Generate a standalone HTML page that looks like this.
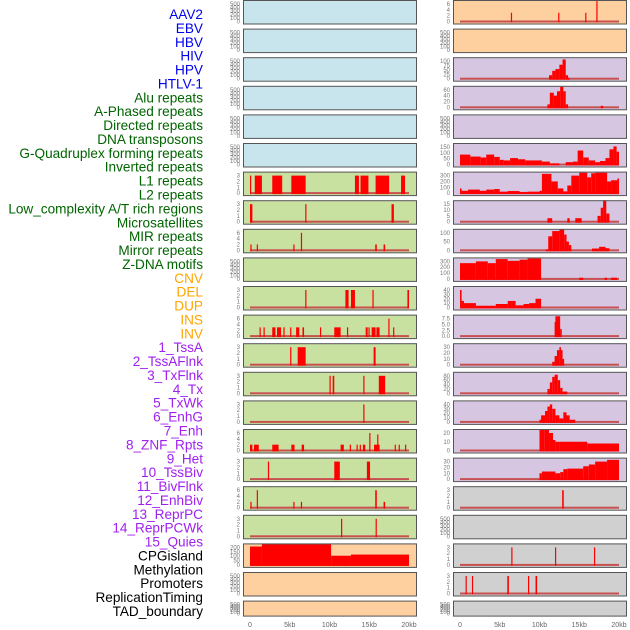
<!DOCTYPE html>
<html><head><meta charset="utf-8">
<style>
html,body{margin:0;padding:0;background:#fff;}
svg{display:block;font-family:"Liberation Sans",sans-serif;}
</style></head>
<body>
<svg id="chart" width="630" height="630" viewBox="0 0 630 630" xmlns="http://www.w3.org/2000/svg"></svg>
<script>
const labelColors=["#0000ee","#0000ee","#0000ee","#0000ee","#0000ee","#0000ee","#006400","#006400","#006400","#006400","#006400","#006400","#006400","#006400","#006400","#006400","#006400","#006400","#006400","#ffa500","#ffa500","#ffa500","#ffa500","#ffa500","#a020f0","#a020f0","#a020f0","#a020f0","#a020f0","#a020f0","#a020f0","#a020f0","#a020f0","#a020f0","#a020f0","#a020f0","#a020f0","#a020f0","#a020f0","#000","#000","#000","#000","#000"];
const shownLabels=["AAV2","EBV","HBV","HIV","HPV","HTLV-1","Alu repeats","A-Phased repeats","Directed repeats","DNA transposons","G-Quadruplex forming repeats","Inverted repeats","L1 repeats","L2 repeats","Low_complexity A/T rich regions","Microsatellites","MIR repeats","Mirror repeats","Z-DNA motifs","CNV","DEL","DUP","INS","INV","1_TssA","2_TssAFlnk","3_TxFlnk","4_Tx","5_TxWk","6_EnhG","7_Enh","8_ZNF_Rpts","9_Het","10_TssBiv","11_BivFlnk","12_EnhBiv","13_ReprPC","14_ReprPCWk","15_Quies","CPGisland","Methylation","Promoters","ReplicationTiming","TAD_boundary"];
const T500=[0,100,200,300,400,500], T3=[0,1,2,3], T6=[0,2,4,6];
const leftBg=["#c8e4ec","#c8e4ec","#c8e4ec","#c8e4ec","#c8e4ec","#c8e4ec","#c8e0a0","#c8e0a0","#c8e0a0","#c8e0a0","#c8e0a0","#c8e0a0","#c8e0a0","#c8e0a0","#c8e0a0","#c8e0a0","#c8e0a0","#c8e0a0","#c8e0a0","#fecf9f","#fecf9f","#fecf9f"];
const leftTicks=[T500,T500,T500,T500,T500,T500,T3,T3,T6,T500,T3,T6,T3,T3,T3,T6,T3,T6,T3,[0,50,100,150,200],T500,T500];
const leftData=[
[],[],[],[],[],[],
[[0,0.15,3],[0.6,1.5,3],[2.8,4.05,3],[5.2,7.0,3],[13.2,13.7,3],[13.9,14.9,3],[15.8,17.5,3],[19.0,19.5,3]],
[[0,0.3,3],[6.95,7.1,3],[17.8,18.1,3]],
[[0.05,0.2,2],[0.85,1.0,2],[5.45,5.6,2],[6.4,6.55,6],[15.75,15.95,2],[16.8,17.0,2]],
[],
[[6.95,7.1,3],[12.0,12.4,3],[12.7,13.2,3],[15.4,15.55,3],[19.8,20,3]],
[[1.2,1.35,3],[1.7,1.85,3],[2.8,3.2,3],[3.4,3.9,3],[4.2,4.3,3],[5.05,5.2,3],[5.8,6.2,3],[6.6,6.8,3],[8.8,8.95,3],[10.6,11.4,3],[12.2,12.35,3],[14.55,14.8,3],[14.9,15.0,3],[15.3,15.8,3],[15.9,16.3,3],[17.4,17.55,6],[18.0,18.15,3]],
[[5.05,5.2,3],[6.0,7.0,3],[15.55,15.8,3]],
[[10.0,10.15,3],[10.4,10.6,3],[14.25,14.4,3],[16.2,17.0,3]],
[[14.25,14.4,3]],
[[0,0.3,2],[0.5,1.1,2],[2.8,3.6,2],[5.2,5.6,2],[6.5,6.8,2],[11.4,11.8,2],[12.55,12.7,2],[13.4,13.55,2],[13.8,13.95,2],[14.2,14.5,2],[15.0,15.15,6],[15.6,16.3,2],[16.0,16.15,5.5],[18.2,18.35,2],[18.7,18.85,2],[19.5,19.65,2]],
[[2.25,2.4,3],[10.6,11.3,3],[14.7,15.1,3]],
[[0.05,0.2,2],[0.85,1.0,6],[5.45,5.6,2],[6.4,6.55,2],[15.75,15.95,6],[16.8,17.0,2]],
[[11.45,11.6,3],[15.8,15.95,3]],
[[0,1.5,210],[1.5,10.2,240],[10.2,12.7,105],[12.7,20,118]],
[],[]
];
const rightBg=["#fecf9f","#fecf9f","#d6c6e2","#d6c6e2","#d6c6e2","#d6c6e2","#d6c6e2","#d6c6e2","#d6c6e2","#d6c6e2","#d6c6e2","#d6c6e2","#d6c6e2","#d6c6e2","#d6c6e2","#d6c6e2","#d6c6e2","#d0d0d0","#d0d0d0","#d0d0d0","#d0d0d0","#d0d0d0"];
const rightTicks=[T6,T500,[0,25,50,75,100],[0,20,40,60],T500,[0,50,100,150],[0,100,200,300],[0,5,10,15],[0,50,100],[0,100,200,300],[0,10,20,30,40],[0,2.5,5,7.5],[0,10,20,30],[0,20,40,60,80],[0,10,20,30,40],[0,10,20],[0,10,20,30],T3,T500,T3,T3,T500];
const rightTickText=[null,null,null,null,null,null,null,null,null,null,null,["0.0","2.5","5.0","7.5"],null,null,null,null,null,null,null,null,null,null];
const rightData=[
[[6.4,6.55,3],[12.35,12.5,3],[15.75,15.9,3],[17.15,17.3,7]],
[],
[[11.2,11.6,20],[11.6,12.0,45],[12.0,12.5,55],[12.5,12.9,80],[12.9,13.3,110],[13.3,13.6,20],[13.6,13.8,5]],
[[11.0,11.3,10],[11.3,11.8,50],[11.8,12.2,40],[12.2,12.6,55],[12.6,13.0,70],[13.0,13.3,55],[13.3,13.6,10],[17.7,18.0,5]],
[],
[[0,1.3,85],[1.3,2.6,68],[2.6,3.3,60],[3.3,4.3,85],[4.3,5.0,65],[5.0,5.5,40],[5.5,6.3,35],[6.3,7.3,55],[7.3,8.2,45],[8.2,10.3,35],[10.3,11.3,25],[11.3,12.5,10],[13.3,14.2,20],[14.2,14.8,25],[14.8,15.5,120],[15.5,16.2,60],[16.2,17.0,35],[17.0,17.6,20],[17.6,18.3,30],[18.3,18.8,55],[18.8,19.3,130],[19.3,19.7,155],[19.7,20,110]],
[[0,0.2,80],[0.2,1,40],[1,2.5,60],[2.5,3.3,40],[3.3,4.3,60],[4.3,5,70],[5,6,25],[6,7.5,35],[7.5,8.5,20],[8.5,10,25],[10,10.3,40],[10.3,11.5,330],[11.5,12.3,200],[12.3,13,80],[13,13.5,30],[13.5,14,130],[14,15,300],[15,16,350],[16,16.5,270],[16.5,17,340],[17,18.5,350],[18.5,19,200],[19,19.8,220],[19.8,20,250]],
[[11.0,11.6,3],[13.5,13.8,3],[14.5,15.3,3],[17.3,17.7,5],[17.7,18.0,12],[18.0,18.4,20],[18.4,18.8,7]],
[[10.8,11.1,5],[11.1,11.6,80],[11.6,12.5,110],[12.5,13.1,120],[13.1,13.4,90],[13.4,13.7,50],[13.7,14.0,30],[16.6,17.5,10],[17.5,18.3,20],[18.3,18.8,12]],
[[0,2,270],[2,3.5,300],[3.5,4.5,270],[4.5,6,340],[6,7.5,310],[7.5,8.5,330],[8.5,10.2,350],[15,15.5,20],[18.2,18.5,20],[19,19.8,20]],
[[0,0.2,40],[0.2,0.5,15],[0.5,2,10],[2,4.5,4],[4.5,6,8],[6,7,15],[7,8,5],[8,8.7,8],[8.7,9.5,10],[9.5,10.2,20]],
[[11.9,12.0,6],[12.0,12.6,8.5],[12.6,12.8,3]],
[[11.6,11.9,5],[11.9,12.2,15],[12.2,12.5,25],[12.5,12.7,30],[12.7,12.9,25],[12.9,13.1,10]],
[[11.0,11.3,20],[11.3,11.6,50],[11.6,11.9,75],[11.9,12.3,85],[12.3,12.6,60],[12.6,12.9,25],[12.9,13.5,8]],
[[10,10.2,5],[10.2,10.7,15],[10.7,11,25],[11,11.3,35],[11.3,11.6,40],[11.6,12,30],[12,12.5,15],[12.5,13,8],[13,13.4,22],[13.4,13.8,15],[13.8,14.5,5]],
[[10,10.6,28],[10.6,11.2,27],[11.2,11.7,20],[11.7,12.0,12],[12,12.5,10],[12.5,16,10],[16,20,8]],
[[10,10.3,10],[10.3,12,13],[12,12.6,10],[12.6,13,12],[13,13.5,17],[13.5,15.5,18],[15.5,16.2,22],[16.2,17,25],[17,18.5,30],[18.5,20,33]],
[[12.85,13.05,3]],
[],
[[6.45,6.6,3],[11.95,12.1,3],[16.85,17.0,3]],
[[0.7,0.85,3],[1.5,1.65,3],[5.95,6.15,3],[8.55,8.7,3],[9.5,9.7,3]],
[]
];
const xTicks=[0,5,10,15,20];
const xTickLabels=["0","5kb","10kb","15kb","20kb"];

const NS="http://www.w3.org/2000/svg";
const svg=document.getElementById('chart');
function mk(tag,attrs,parent){const e=document.createElementNS(NS,tag);for(const k in attrs)e.setAttribute(k,attrs[k]);(parent||svg).appendChild(e);return e;}
const rowStep=28.6;
function rowTop(i){return i*rowStep;}
function rowH(i){return i===21?16:24.5;}
for(let i=0;i<shownLabels.length;i++){
  const t=mk('text',{x:203,y:19+(i*(597/43)),'text-anchor':'end','font-size':'13.6',fill:labelColors[i]});
  
  
  t.textContent=shownLabels[i];
}
function drawColumn(px0,pw,dx0,dx1,bgs,ticks,data,tickText,side){
  const xs=kb=>dx0+(kb/20)*(dx1-dx0);
  for(let i=0;i<bgs.length;i++){
    const top=rowTop(i),h=rowH(i);
    const g=mk('g',{});
    
    
    const clipId='c'+side+i;
    const cp=mk('clipPath',{id:clipId},g);mk('rect',{x:px0,y:top,width:pw,height:h},cp);
    const bg=mk('rect',{x:px0,y:top+0.5,width:pw,height:h-1,fill:bgs[i]},g);
    
    
    const tk=ticks[i];const ymax=tk[tk.length-1];
    const y0=top+h-3,yT=top+4;
    const ys=v=>y0-(v/ymax)*(y0-yT);
    const bars=mk('g',{'clip-path':'url(#'+clipId+')'},g);
    if(data[i].length){
      const bl=mk('rect',{x:xs(0),y:y0-1,width:xs(20)-xs(0),height:2,fill:'#c85050'},bars);
      
      
    }
    for(const d of data[i]){
      const r=mk('rect',{x:xs(d[0]),y:ys(d[2]),width:Math.max(1.2,xs(d[1])-xs(d[0])),height:y0-ys(d[2])+1,fill:'#ff0000'},bars);
      
      
    }
    const br=mk('rect',{x:px0+0.5,y:top+0.5,width:pw-1,height:h-1,fill:'none',stroke:'#555','stroke-width':1},g);
    
    
    tk.forEach((v,j)=>{
      const t=mk('text',{x:px0-3,y:ys(v)+2,'text-anchor':'end','font-size':'6',fill:'#777'},g);
      
      
      t.textContent=tickText&&tickText[i]?tickText[i][j]:String(v);
    });
  }
  xTicks.forEach((v,j)=>{
    const t=mk('text',{x:xs(v),y:627,'text-anchor':'middle','font-size':'7',fill:'#666'});
    
    
    t.textContent=xTickLabels[j];
  });
}
drawColumn(243,174,250,409,leftBg,leftTicks,leftData,null,'left');
drawColumn(453,174,460,619,rightBg,rightTicks,rightData,rightTickText,'right');
</script>
</body></html>
